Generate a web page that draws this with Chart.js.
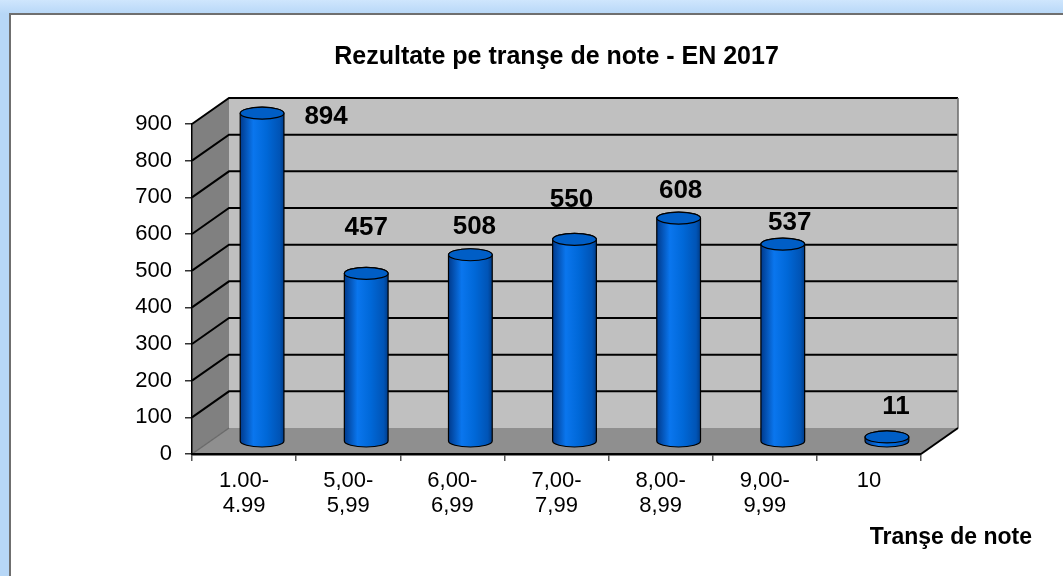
<!DOCTYPE html>
<html>
<head>
<meta charset="utf-8">
<script src="https://cdn.jsdelivr.net/npm/chart.js@4/dist/chart.umd.min.js"></script>
<style>
  html, body { margin: 0; padding: 0; }
  body {
    width: 1063px; height: 576px; overflow: hidden; position: relative;
    background: linear-gradient(to bottom, #cfe6fd 0px, #b7d7f7 14px, #b7d7f7 100%);
    font-family: "Liberation Sans", Arial, sans-serif;
  }
  #panel {
    position: absolute; left: 9px; top: 13px; width: 1100px; height: 620px;
    background: #fff; border-left: 2px solid #6f6f6f; border-top: 2px solid #6f6f6f;
  }
  #wrap { position: absolute; left: 0; top: 0; width: 1063px; height: 576px; }
</style>
</head>
<body>
<div id="panel"></div>
<div id="wrap"><canvas id="myChart"></canvas></div>
<script>
// date
const categorii = [['1.00-', '4.99'], ['5,00-', '5,99'], ['6,00-', '6,99'], ['7,00-', '7,99'], ['8,00-', '8,99'], ['9,00-', '9,99'], '10'];
const valori = [894, 457, 508, 550, 608, 537, 11];
const titlu = 'Rezultate pe tranşe de note - EN 2017';
const titluAxaX = 'Tranşe de note';

// deplasari etichete fata de capacul cilindrului
const etichetaDx = [64, 0, 4, -3, 2, 7, 9];
const etichetaDy = [-4, 46, 28, 40, 27, 21, 30];

const DX = 37, DY = -26;     // adancimea peretelui din spate
const BX = 18, BY = -13;     // pozitia barelor (la mijloc)

const pereti3d = {
    id: 'pereti3d',
    beforeDraw(chart) {
        const ctx = chart.ctx;
        const a = chart.chartArea;
        const y = chart.scales.y;
        ctx.save();
        // perete lateral
        ctx.fillStyle = '#808080';
        ctx.beginPath();
        ctx.moveTo(a.left, a.top);
        ctx.lineTo(a.left + DX, a.top + DY);
        ctx.lineTo(a.left + DX, a.bottom + DY);
        ctx.lineTo(a.left, a.bottom);
        ctx.closePath();
        ctx.fill();
        // perete spate
        ctx.fillStyle = '#c0c0c0';
        ctx.fillRect(a.left + DX, a.top + DY, a.right - a.left, a.bottom - a.top);
        // podea
        ctx.fillStyle = '#8f8f8f';
        ctx.beginPath();
        ctx.moveTo(a.left, a.bottom);
        ctx.lineTo(a.left + DX, a.bottom + DY);
        ctx.lineTo(a.right + DX, a.bottom + DY);
        ctx.lineTo(a.right, a.bottom);
        ctx.closePath();
        ctx.fill();
        // linii de grila
        ctx.strokeStyle = '#000';
        ctx.lineWidth = 2;
        y.ticks.forEach(t => {
            if (t.value === 0) return;
            const py = y.getPixelForValue(t.value);
            ctx.beginPath();
            ctx.moveTo(a.left, py);
            ctx.lineTo(a.left + DX, py + DY);
            ctx.lineTo(a.right + DX, py + DY);
            ctx.stroke();
        });
        // muchii
        ctx.strokeStyle = '#6a6a6a';
        ctx.lineWidth = 1.5;
        ctx.beginPath();
        ctx.moveTo(a.right + DX, a.top + DY);
        ctx.lineTo(a.right + DX, a.bottom + DY);
        ctx.moveTo(a.left, a.bottom);
        ctx.lineTo(a.left + DX, a.bottom + DY);
        ctx.stroke();
        ctx.strokeStyle = '#000';
        ctx.lineWidth = 2;
        ctx.beginPath();
        ctx.moveTo(a.right, a.bottom);
        ctx.lineTo(a.right + DX, a.bottom + DY);
        ctx.stroke();
        ctx.restore();
    },
    afterDatasetsDraw(chart) {
        const ctx = chart.ctx;
        const y = chart.scales.y;
        const meta = chart.getDatasetMeta(0);
        const baza = y.getPixelForValue(0) + BY;
        ctx.save();
        meta.data.forEach((bar, i) => {
            const cx = bar.x + BX;
            const rw = bar.width / 2;
            const ry = 6;
            const sus = bar.y + BY;
            const g = ctx.createLinearGradient(cx - rw, 0, cx + rw, 0);
            g.addColorStop(0, '#003a8c');
            g.addColorStop(0.3, '#0a76ee');
            g.addColorStop(0.6, '#0068d8');
            g.addColorStop(0.9, '#0054b6');
            g.addColorStop(1, '#003c88');
            ctx.beginPath();
            ctx.moveTo(cx - rw, sus);
            ctx.lineTo(cx - rw, baza);
            ctx.ellipse(cx, baza, rw, ry, 0, Math.PI, 0, true);
            ctx.lineTo(cx + rw, sus);
            ctx.ellipse(cx, sus, rw, ry, 0, 0, Math.PI, true);
            ctx.closePath();
            ctx.fillStyle = g;
            ctx.fill();
            ctx.strokeStyle = '#000';
            ctx.lineWidth = 1.2;
            ctx.stroke();
            ctx.beginPath();
            ctx.ellipse(cx, sus, rw, ry, 0, 0, Math.PI * 2);
            ctx.fillStyle = '#005ec6';
            ctx.fill();
            ctx.stroke();
            // eticheta valorii
            ctx.fillStyle = '#000';
            ctx.font = 'bold 26px "Liberation Sans", Arial, sans-serif';
            ctx.textAlign = 'center';
            ctx.textBaseline = 'middle';
            ctx.fillText(String(valori[i]), cx + etichetaDx[i], sus - etichetaDy[i]);
        });
        ctx.restore();
    },
    afterDraw(chart) {
        const ctx = chart.ctx;
        const a = chart.chartArea;
        ctx.save();
        ctx.fillStyle = '#000';
        ctx.textBaseline = 'middle';
        ctx.font = 'bold 25px "Liberation Sans", Arial, sans-serif';
        ctx.textAlign = 'center';
        ctx.fillText(titlu, (a.left + a.right) / 2, 57);
        ctx.font = 'bold 23px "Liberation Sans", Arial, sans-serif';
        ctx.textAlign = 'right';
        ctx.fillText(titluAxaX, 1032, 538);
        ctx.restore();
    }
};

new Chart(document.getElementById('myChart'), {
    type: 'bar',
    data: {
        labels: categorii,
        datasets: [{
            data: valori,
            backgroundColor: 'rgba(0,0,0,0)',
            borderWidth: 0,
            barPercentage: 0.42,
            categoryPercentage: 1
        }]
    },
    options: {
        responsive: true,
        maintainAspectRatio: false,
        animation: false,
        layout: { padding: { left: 0, top: 124, right: 142, bottom: 0 } },
        plugins: {
            legend: { display: false },
            tooltip: { enabled: false }
        },
        scales: {
            x: {
                afterFit(s) { s.height = 122; },
                grid: { drawOnChartArea: false, tickLength: 7, color: '#555', lineWidth: 1.5 },
                border: { display: true, color: '#000', width: 2.5 },
                ticks: {
                    color: '#000',
                    padding: 7,
                    maxRotation: 0,
                    autoSkip: false,
                    font: { family: '"Liberation Sans", Arial, sans-serif', size: 22, lineHeight: 1.15 }
                }
            },
            y: {
                min: 0,
                max: 900,
                afterFit(s) { s.width = 192; },
                grid: { drawOnChartArea: false, tickLength: 7, color: '#333', lineWidth: 1.5 },
                border: { display: true, color: '#000', width: 1.5 },
                ticks: {
                    stepSize: 100,
                    color: '#000',
                    padding: 13,
                    font: { family: '"Liberation Sans", Arial, sans-serif', size: 22 }
                }
            }
        }
    },
    plugins: [pereti3d]
});
</script>
</body>
</html>
